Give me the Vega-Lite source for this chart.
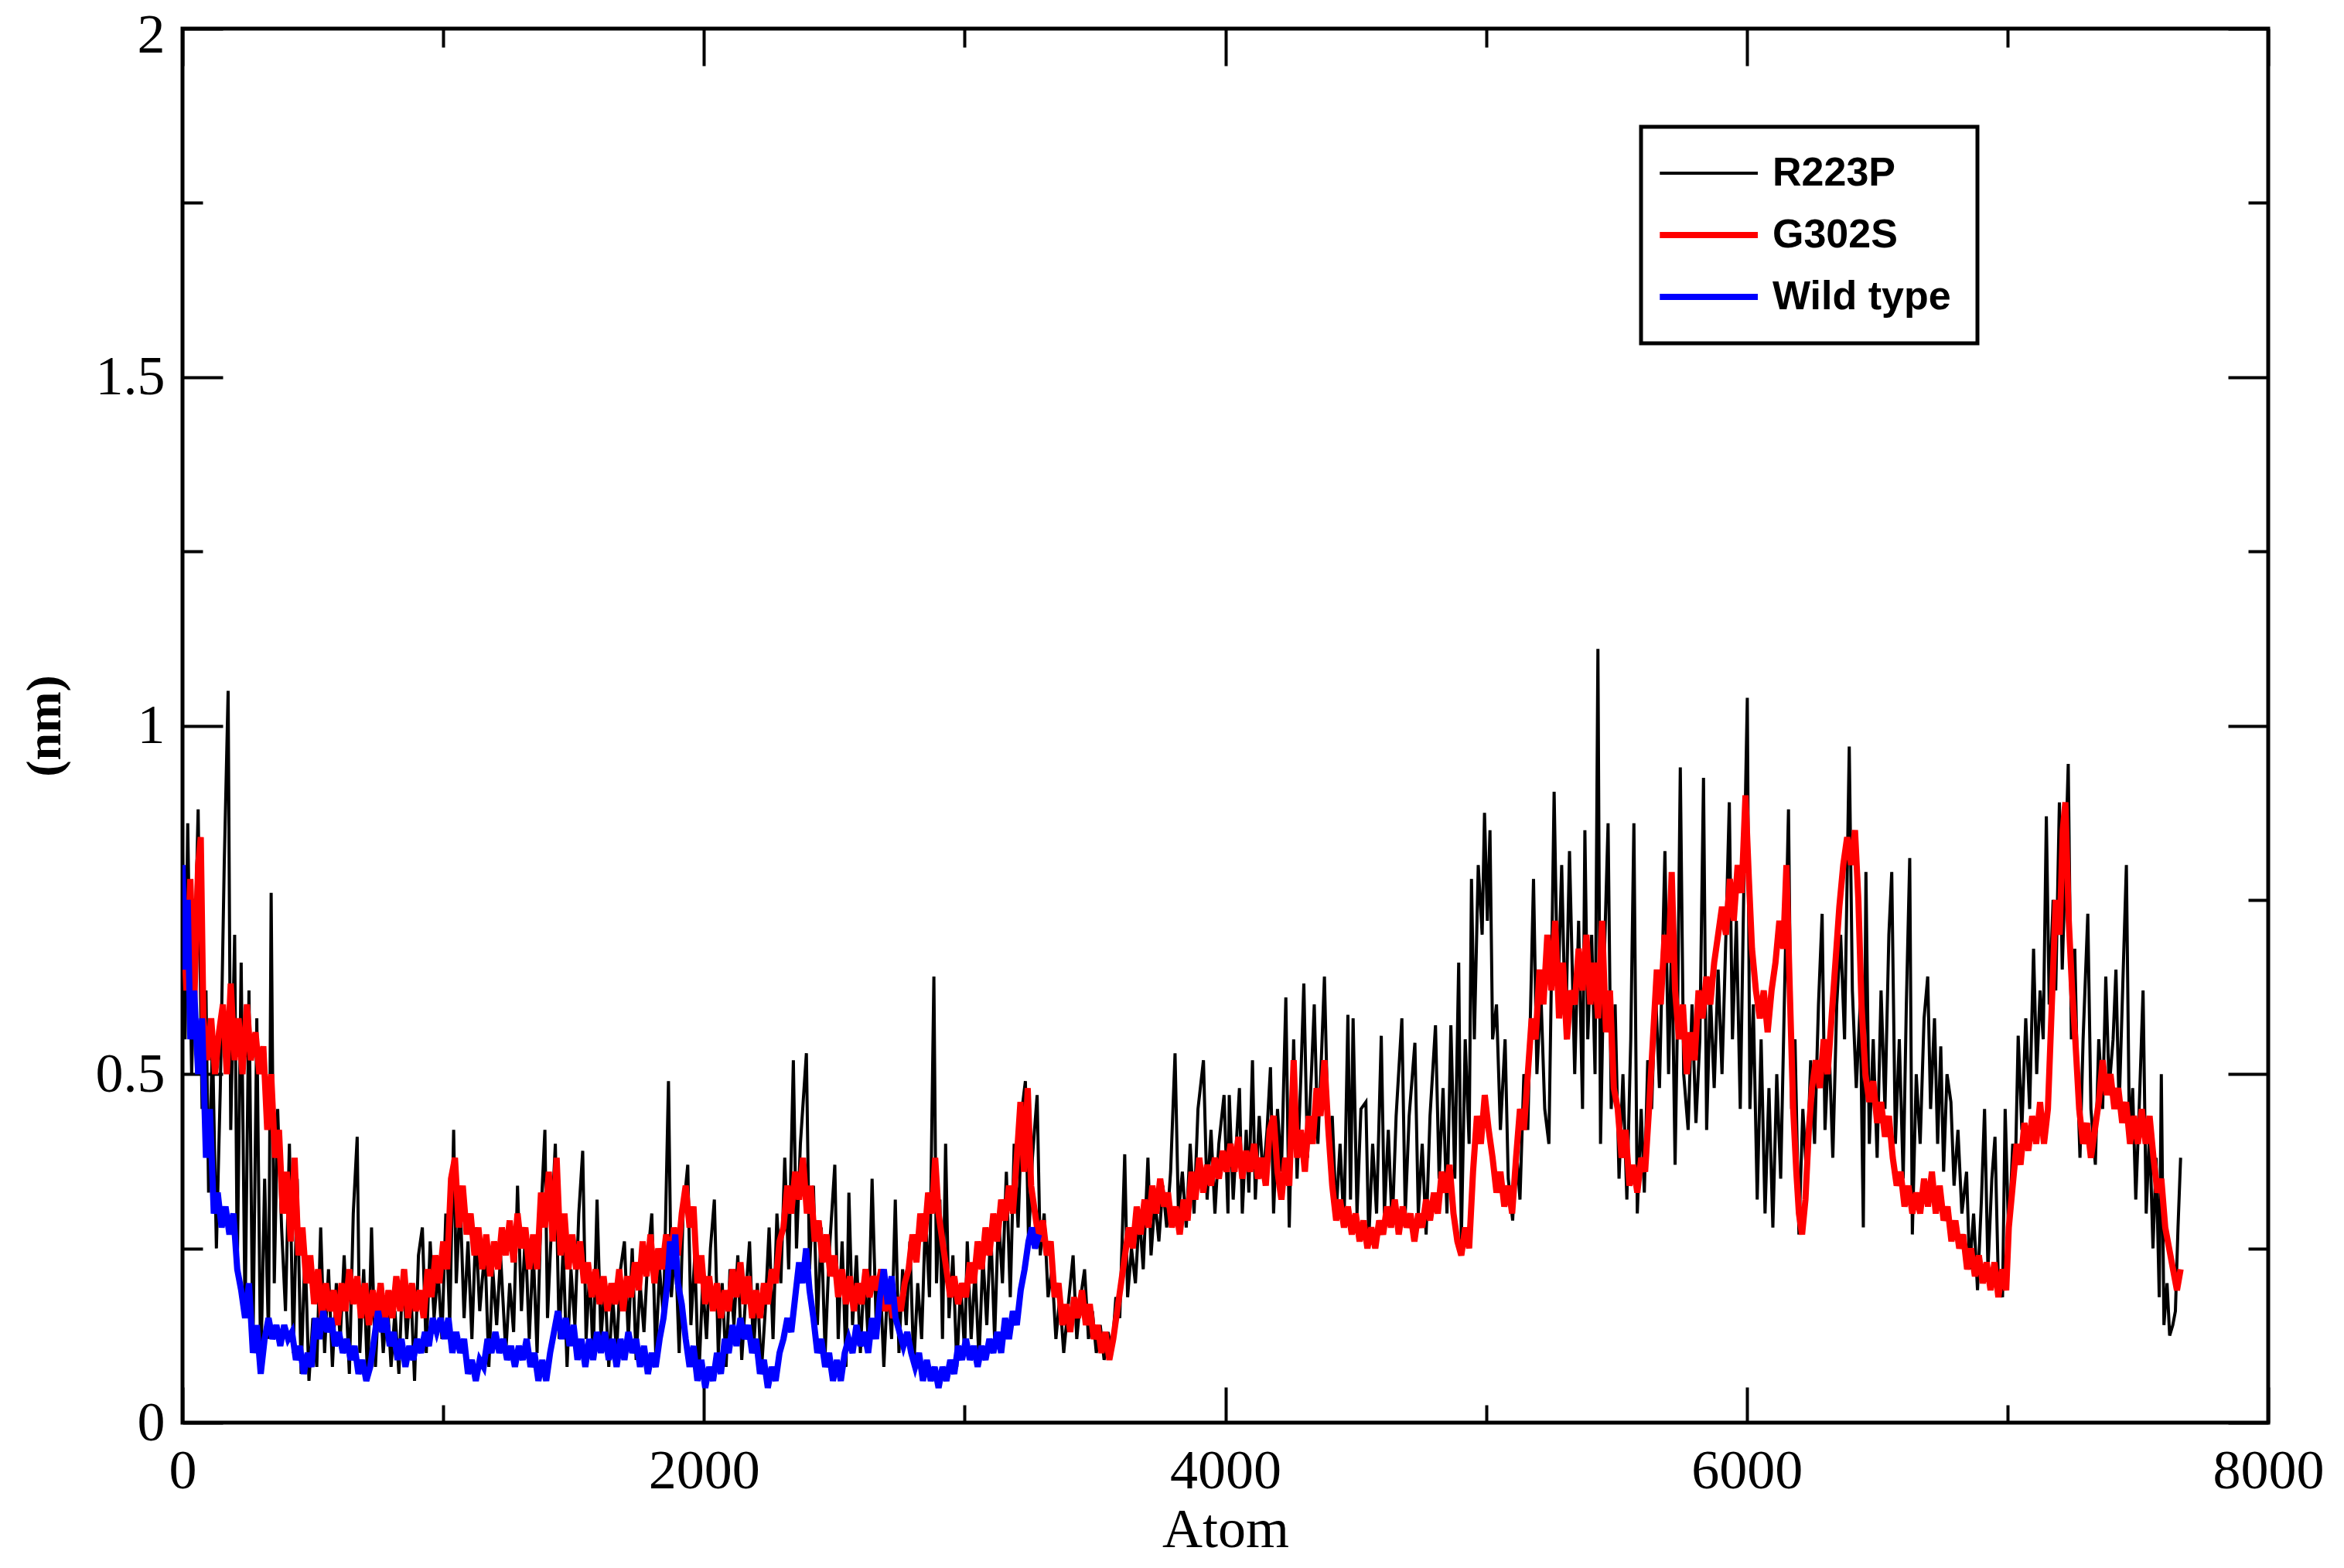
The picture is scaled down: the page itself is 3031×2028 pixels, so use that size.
{
"$schema": "https://vega.github.io/schema/vega-lite/v6.json",
"width": 2697,
"height": 1803,
"autosize": {"type": "none"},
"padding": {"left": 236, "top": 37, "right": 98, "bottom": 188},
"background": "white",
"config": {
  "view": {"stroke": "black", "strokeWidth": 5},
  "axis": {"domain": false, "grid": false, "tickColor": "black", "tickWidth": 4, "labelColor": "black", "titleColor": "black", "labelFont": "Liberation Serif", "titleFont": "Liberation Serif", "labelFontSize": 72}
},
"datasets": {
"r223p": [
{"atom":0,"nm":0.82},{"atom":10,"nm":0.55},{"atom":20,"nm":0.86},{"atom":35,"nm":0.5},{"atom":50,"nm":0.72},{"atom":60,"nm":0.88},{"atom":75,"nm":0.45},{"atom":90,"nm":0.62},{"atom":100,"nm":0.33},{"atom":115,"nm":0.55},{"atom":130,"nm":0.25},{"atom":145,"nm":0.48},{"atom":160,"nm":0.8},{"atom":175,"nm":1.05},{"atom":185,"nm":0.42},{"atom":200,"nm":0.7},{"atom":210,"nm":0.22},{"atom":225,"nm":0.66},{"atom":240,"nm":0.15},{"atom":255,"nm":0.62},{"atom":270,"nm":0.1},{"atom":285,"nm":0.58},{"atom":300,"nm":0.07},{"atom":315,"nm":0.35},{"atom":330,"nm":0.12},{"atom":340,"nm":0.76},{"atom":352,"nm":0.2},{"atom":365,"nm":0.45},{"atom":380,"nm":0.28},{"atom":395,"nm":0.16},
{"atom":410,"nm":0.4},{"atom":425,"nm":0.1},{"atom":440,"nm":0.35},{"atom":455,"nm":0.07},{"atom":470,"nm":0.25},{"atom":485,"nm":0.06},{"atom":500,"nm":0.15},{"atom":515,"nm":0.08},{"atom":530,"nm":0.28},{"atom":545,"nm":0.1},{"atom":560,"nm":0.22},{"atom":575,"nm":0.08},{"atom":590,"nm":0.2},{"atom":605,"nm":0.12},{"atom":620,"nm":0.24},{"atom":640,"nm":0.07},{"atom":655,"nm":0.3},{"atom":670,"nm":0.41},{"atom":680,"nm":0.1},{"atom":695,"nm":0.22},{"atom":710,"nm":0.06},{"atom":725,"nm":0.28},{"atom":740,"nm":0.08},{"atom":755,"nm":0.2},{"atom":770,"nm":0.1},{"atom":785,"nm":0.18},{"atom":800,"nm":0.08},{"atom":815,"nm":0.16},{"atom":830,"nm":0.07},{"atom":845,"nm":0.22},{"atom":860,"nm":0.12},{"atom":875,"nm":0.2},{"atom":890,"nm":0.06},{"atom":905,"nm":0.24},{"atom":920,"nm":0.28},{"atom":935,"nm":0.1},{"atom":950,"nm":0.26},{"atom":965,"nm":0.15},{"atom":980,"nm":0.22},{"atom":995,"nm":0.12},
{"atom":1010,"nm":0.3},{"atom":1025,"nm":0.14},{"atom":1040,"nm":0.42},{"atom":1050,"nm":0.2},{"atom":1065,"nm":0.32},{"atom":1080,"nm":0.15},{"atom":1095,"nm":0.26},{"atom":1110,"nm":0.12},{"atom":1125,"nm":0.28},{"atom":1140,"nm":0.16},{"atom":1160,"nm":0.25},{"atom":1175,"nm":0.08},{"atom":1190,"nm":0.22},{"atom":1205,"nm":0.14},{"atom":1220,"nm":0.24},{"atom":1240,"nm":0.1},{"atom":1255,"nm":0.2},{"atom":1270,"nm":0.13},{"atom":1285,"nm":0.34},{"atom":1300,"nm":0.16},{"atom":1315,"nm":0.27},{"atom":1330,"nm":0.12},
{"atom":1345,"nm":0.25},{"atom":1360,"nm":0.1},{"atom":1375,"nm":0.3},{"atom":1390,"nm":0.42},{"atom":1400,"nm":0.15},{"atom":1415,"nm":0.28},{"atom":1430,"nm":0.4},{"atom":1445,"nm":0.12},{"atom":1460,"nm":0.25},{"atom":1475,"nm":0.08},{"atom":1490,"nm":0.22},{"atom":1505,"nm":0.14},{"atom":1520,"nm":0.3},{"atom":1535,"nm":0.39},{"atom":1548,"nm":0.12},{"atom":1562,"nm":0.22},{"atom":1575,"nm":0.09},{"atom":1590,"nm":0.32},{"atom":1605,"nm":0.12},{"atom":1620,"nm":0.2},{"atom":1635,"nm":0.08},{"atom":1650,"nm":0.18},{"atom":1665,"nm":0.1},{"atom":1680,"nm":0.22},{"atom":1695,"nm":0.26},{"atom":1710,"nm":0.12},{"atom":1725,"nm":0.25},{"atom":1740,"nm":0.09},{"atom":1755,"nm":0.2},{"atom":1770,"nm":0.13},{"atom":1785,"nm":0.24},{"atom":1800,"nm":0.3},{"atom":1815,"nm":0.1},{"atom":1830,"nm":0.22},{"atom":1845,"nm":0.15},{"atom":1864,"nm":0.49},{"atom":1875,"nm":0.18},{"atom":1890,"nm":0.26},{"atom":1905,"nm":0.1},{"atom":1920,"nm":0.3},{"atom":1938,"nm":0.37},{"atom":1950,"nm":0.14},{"atom":1965,"nm":0.24},{"atom":1980,"nm":0.06},{"atom":1995,"nm":0.2},{"atom":2010,"nm":0.12},{"atom":2025,"nm":0.25},{"atom":2040,"nm":0.32},{"atom":2055,"nm":0.1},{"atom":2070,"nm":0.2},{"atom":2085,"nm":0.08},{"atom":2100,"nm":0.22},{"atom":2115,"nm":0.14},{"atom":2130,"nm":0.24},{"atom":2145,"nm":0.09},{"atom":2160,"nm":0.18},{"atom":2175,"nm":0.26},{"atom":2190,"nm":0.1},{"atom":2205,"nm":0.2},{"atom":2220,"nm":0.07},{"atom":2235,"nm":0.16},{"atom":2250,"nm":0.28},{"atom":2265,"nm":0.12},{"atom":2280,"nm":0.3},{"atom":2295,"nm":0.2},{"atom":2310,"nm":0.38},{"atom":2325,"nm":0.22},{"atom":2343,"nm":0.52},{"atom":2355,"nm":0.25},{"atom":2370,"nm":0.4},{"atom":2393,"nm":0.53},{"atom":2405,"nm":0.22},{"atom":2420,"nm":0.34},{"atom":2435,"nm":0.14},{"atom":2450,"nm":0.28},{"atom":2465,"nm":0.1},{"atom":2480,"nm":0.24},{"atom":2502,"nm":0.37},{"atom":2515,"nm":0.12},{"atom":2530,"nm":0.26},{"atom":2545,"nm":0.08},{"atom":2556,"nm":0.33},{"atom":2570,"nm":0.14},{"atom":2585,"nm":0.24},{"atom":2600,"nm":0.1},{"atom":2615,"nm":0.22},{"atom":2630,"nm":0.12},{"atom":2645,"nm":0.35},{"atom":2660,"nm":0.15},
{"atom":2675,"nm":0.22},{"atom":2690,"nm":0.08},{"atom":2705,"nm":0.2},{"atom":2720,"nm":0.12},{"atom":2734,"nm":0.32},{"atom":2748,"nm":0.1},{"atom":2762,"nm":0.22},{"atom":2776,"nm":0.14},{"atom":2790,"nm":0.26},{"atom":2805,"nm":0.08},{"atom":2820,"nm":0.2},{"atom":2835,"nm":0.12},{"atom":2850,"nm":0.3},{"atom":2865,"nm":0.18},{"atom":2882,"nm":0.64},{"atom":2892,"nm":0.2},{"atom":2905,"nm":0.32},{"atom":2915,"nm":0.12},{"atom":2927,"nm":0.4},{"atom":2940,"nm":0.15},{"atom":2955,"nm":0.24},{"atom":2970,"nm":0.08},{"atom":2985,"nm":0.2},{"atom":3000,"nm":0.1},{"atom":3010,"nm":0.26},{"atom":3025,"nm":0.12},{"atom":3040,"nm":0.22},{"atom":3055,"nm":0.09},{"atom":3070,"nm":0.24},{"atom":3085,"nm":0.14},{"atom":3100,"nm":0.28},{"atom":3115,"nm":0.12},{"atom":3130,"nm":0.3},{"atom":3145,"nm":0.2},{"atom":3160,"nm":0.36},{"atom":3175,"nm":0.18},{"atom":3190,"nm":0.4},{"atom":3205,"nm":0.28},{"atom":3220,"nm":0.45},{"atom":3233,"nm":0.49},{"atom":3245,"nm":0.26},{"atom":3260,"nm":0.38},{"atom":3278,"nm":0.47},{"atom":3290,"nm":0.24},{"atom":3305,"nm":0.3},{"atom":3320,"nm":0.18},{"atom":3335,"nm":0.22},{"atom":3350,"nm":0.12},{"atom":3365,"nm":0.18},{"atom":3380,"nm":0.1},{"atom":3395,"nm":0.16},{"atom":3416,"nm":0.24},{"atom":3430,"nm":0.12},{"atom":3445,"nm":0.18},{"atom":3460,"nm":0.22},{"atom":3475,"nm":0.12},{"atom":3490,"nm":0.16},{"atom":3505,"nm":0.1},{"atom":3520,"nm":0.14},{"atom":3535,"nm":0.09},{"atom":3550,"nm":0.13},{"atom":3565,"nm":0.1},{"atom":3580,"nm":0.18},{"atom":3595,"nm":0.15},{"atom":3614,"nm":0.385},{"atom":3625,"nm":0.18},{"atom":3640,"nm":0.25},{"atom":3655,"nm":0.2},{"atom":3670,"nm":0.3},{"atom":3685,"nm":0.22},{"atom":3703,"nm":0.38},{"atom":3715,"nm":0.24},{"atom":3730,"nm":0.32},{"atom":3745,"nm":0.26},{"atom":3760,"nm":0.34},{"atom":3775,"nm":0.28},{"atom":3790,"nm":0.36},{"atom":3807,"nm":0.53},{"atom":3820,"nm":0.3},{"atom":3835,"nm":0.36},{"atom":3850,"nm":0.28},{"atom":3865,"nm":0.4},{"atom":3880,"nm":0.3},{"atom":3895,"nm":0.45},{"atom":3916,"nm":0.52},{"atom":3930,"nm":0.32},{"atom":3945,"nm":0.42},{"atom":3960,"nm":0.3},{"atom":3975,"nm":0.4},{"atom":3995,"nm":0.47},
{"atom":4010,"nm":0.3},{"atom":4015,"nm":0.47},{"atom":4030,"nm":0.32},{"atom":4054,"nm":0.48},{"atom":4065,"nm":0.3},{"atom":4080,"nm":0.42},{"atom":4090,"nm":0.33},{"atom":4104,"nm":0.52},{"atom":4115,"nm":0.32},{"atom":4130,"nm":0.44},{"atom":4145,"nm":0.35},{"atom":4160,"nm":0.42},{"atom":4173,"nm":0.51},{"atom":4185,"nm":0.3},{"atom":4200,"nm":0.45},{"atom":4215,"nm":0.36},{"atom":4232,"nm":0.61},{"atom":4245,"nm":0.28},{"atom":4262,"nm":0.55},{"atom":4275,"nm":0.35},{"atom":4290,"nm":0.5},{"atom":4301,"nm":0.63},{"atom":4315,"nm":0.38},{"atom":4330,"nm":0.5},{"atom":4341,"nm":0.6},{"atom":4355,"nm":0.4},{"atom":4368,"nm":0.52},{"atom":4380,"nm":0.64},{"atom":4395,"nm":0.4},{"atom":4410,"nm":0.44},{"atom":4425,"nm":0.3},{"atom":4440,"nm":0.4},{"atom":4455,"nm":0.28},{"atom":4470,"nm":0.585},{"atom":4480,"nm":0.32},{"atom":4490,"nm":0.58},{"atom":4505,"nm":0.3},{"atom":4520,"nm":0.45},{"atom":4539,"nm":0.46},{"atom":4550,"nm":0.26},{"atom":4565,"nm":0.4},{"atom":4580,"nm":0.3},{"atom":4598,"nm":0.555},{"atom":4610,"nm":0.3},{"atom":4625,"nm":0.42},{"atom":4640,"nm":0.28},{"atom":4655,"nm":0.44},{"atom":4677,"nm":0.58},{"atom":4690,"nm":0.3},{"atom":4705,"nm":0.44},{"atom":4727,"nm":0.545},{"atom":4740,"nm":0.3},{"atom":4755,"nm":0.4},{"atom":4770,"nm":0.27},{"atom":4785,"nm":0.44},{"atom":4806,"nm":0.57},{"atom":4820,"nm":0.35},{"atom":4835,"nm":0.48},{"atom":4850,"nm":0.3},{"atom":4865,"nm":0.57},{"atom":4880,"nm":0.35},{"atom":4895,"nm":0.66},{"atom":4905,"nm":0.26},{"atom":4920,"nm":0.55},{"atom":4935,"nm":0.4},{"atom":4944,"nm":0.78},{"atom":4955,"nm":0.55},{"atom":4970,"nm":0.8},{"atom":4985,"nm":0.7},{"atom":4994,"nm":0.875},{"atom":5005,"nm":0.72},{"atom":5015,"nm":0.85},{"atom":5025,"nm":0.55},{"atom":5040,"nm":0.6},{"atom":5055,"nm":0.42},{"atom":5073,"nm":0.55},{"atom":5085,"nm":0.35},{"atom":5102,"nm":0.29},{"atom":5115,"nm":0.4},{"atom":5130,"nm":0.32},{"atom":5145,"nm":0.5},{"atom":5160,"nm":0.42},{"atom":5182,"nm":0.78},{"atom":5195,"nm":0.5},{"atom":5210,"nm":0.62},{"atom":5225,"nm":0.45},{"atom":5241,"nm":0.4},{"atom":5255,"nm":0.75},{"atom":5261,"nm":0.905},{"atom":5275,"nm":0.6},{"atom":5290,"nm":0.8},{"atom":5305,"nm":0.55},{"atom":5320,"nm":0.82},
{"atom":5340,"nm":0.5},{"atom":5355,"nm":0.72},{"atom":5370,"nm":0.45},{"atom":5379,"nm":0.85},{"atom":5390,"nm":0.55},{"atom":5405,"nm":0.7},{"atom":5418,"nm":0.5},{"atom":5429,"nm":1.11},{"atom":5439,"nm":0.4},{"atom":5450,"nm":0.62},{"atom":5468,"nm":0.86},{"atom":5480,"nm":0.45},{"atom":5495,"nm":0.6},{"atom":5510,"nm":0.35},{"atom":5525,"nm":0.5},{"atom":5540,"nm":0.32},{"atom":5555,"nm":0.55},{"atom":5567,"nm":0.86},{"atom":5580,"nm":0.3},{"atom":5595,"nm":0.45},{"atom":5607,"nm":0.33},{"atom":5620,"nm":0.52},{"atom":5635,"nm":0.45},{"atom":5650,"nm":0.62},{"atom":5665,"nm":0.48},{"atom":5686,"nm":0.82},{"atom":5700,"nm":0.5},{"atom":5712,"nm":0.7},{"atom":5725,"nm":0.37},{"atom":5735,"nm":0.6},{"atom":5745,"nm":0.94},{"atom":5758,"nm":0.5},{"atom":5775,"nm":0.42},{"atom":5790,"nm":0.6},{"atom":5805,"nm":0.43},{"atom":5820,"nm":0.55},{"atom":5834,"nm":0.925},{"atom":5846,"nm":0.42},{"atom":5860,"nm":0.62},{"atom":5875,"nm":0.48},{"atom":5890,"nm":0.65},{"atom":5905,"nm":0.5},{"atom":5920,"nm":0.7},{"atom":5933,"nm":0.89},{"atom":5945,"nm":0.55},{"atom":5960,"nm":0.72},{"atom":5975,"nm":0.45},{"atom":5990,"nm":0.8},{"atom":6002,"nm":1.04},{"atom":6012,"nm":0.45},{"atom":6025,"nm":0.6},{"atom":6040,"nm":0.32},{"atom":6055,"nm":0.55},{"atom":6070,"nm":0.3},{"atom":6085,"nm":0.48},{"atom":6100,"nm":0.28},{"atom":6115,"nm":0.5},{"atom":6130,"nm":0.35},{"atom":6145,"nm":0.62},{"atom":6160,"nm":0.88},{"atom":6172,"nm":0.45},{"atom":6185,"nm":0.55},{"atom":6200,"nm":0.27},{"atom":6215,"nm":0.45},{"atom":6230,"nm":0.35},{"atom":6245,"nm":0.52},{"atom":6260,"nm":0.4},{"atom":6275,"nm":0.6},{"atom":6289,"nm":0.73},{"atom":6300,"nm":0.42},{"atom":6315,"nm":0.55},{"atom":6330,"nm":0.38},{"atom":6345,"nm":0.6},{"atom":6360,"nm":0.7},{"atom":6375,"nm":0.55},{"atom":6393,"nm":0.97},{"atom":6405,"nm":0.62},{"atom":6420,"nm":0.48},{"atom":6435,"nm":0.6},{"atom":6447,"nm":0.28},{"atom":6457,"nm":0.79},{"atom":6470,"nm":0.4},{"atom":6485,"nm":0.55},{"atom":6500,"nm":0.38},{"atom":6515,"nm":0.62},{"atom":6530,"nm":0.45},{"atom":6545,"nm":0.7},{"atom":6556,"nm":0.79},{"atom":6570,"nm":0.4},{"atom":6585,"nm":0.55},{"atom":6600,"nm":0.35},{"atom":6612,"nm":0.6},{"atom":6625,"nm":0.81},{"atom":6635,"nm":0.27},{"atom":6650,"nm":0.5},
{"atom":6665,"nm":0.4},{"atom":6680,"nm":0.58},{"atom":6694,"nm":0.64},{"atom":6705,"nm":0.45},{"atom":6720,"nm":0.58},{"atom":6732,"nm":0.4},{"atom":6744,"nm":0.54},{"atom":6755,"nm":0.36},{"atom":6768,"nm":0.5},{"atom":6783,"nm":0.46},{"atom":6795,"nm":0.34},{"atom":6810,"nm":0.42},{"atom":6825,"nm":0.3},{"atom":6843,"nm":0.36},{"atom":6855,"nm":0.22},{"atom":6870,"nm":0.3},{"atom":6885,"nm":0.19},{"atom":6900,"nm":0.32},{"atom":6912,"nm":0.45},{"atom":6925,"nm":0.22},{"atom":6940,"nm":0.35},{"atom":6952,"nm":0.41},{"atom":6965,"nm":0.2},{"atom":6981,"nm":0.18},{"atom":6991,"nm":0.45},{"atom":7005,"nm":0.26},{"atom":7020,"nm":0.4},{"atom":7030,"nm":0.36},{"atom":7041,"nm":0.555},{"atom":7055,"nm":0.42},{"atom":7070,"nm":0.58},{"atom":7085,"nm":0.45},{"atom":7100,"nm":0.68},{"atom":7112,"nm":0.5},{"atom":7125,"nm":0.62},{"atom":7137,"nm":0.55},{"atom":7149,"nm":0.87},{"atom":7160,"nm":0.6},{"atom":7175,"nm":0.75},{"atom":7185,"nm":0.62},{"atom":7199,"nm":0.89},{"atom":7210,"nm":0.65},{"atom":7222,"nm":0.8},{"atom":7233,"nm":0.945},{"atom":7245,"nm":0.55},{"atom":7258,"nm":0.68},{"atom":7268,"nm":0.5},{"atom":7278,"nm":0.38},{"atom":7290,"nm":0.55},{"atom":7308,"nm":0.73},{"atom":7320,"nm":0.45},{"atom":7337,"nm":0.37},{"atom":7350,"nm":0.55},{"atom":7365,"nm":0.45},{"atom":7377,"nm":0.64},{"atom":7390,"nm":0.48},{"atom":7405,"nm":0.55},{"atom":7416,"nm":0.65},{"atom":7428,"nm":0.45},{"atom":7440,"nm":0.6},{"atom":7456,"nm":0.8},{"atom":7468,"nm":0.4},{"atom":7480,"nm":0.48},{"atom":7492,"nm":0.32},{"atom":7505,"nm":0.45},{"atom":7520,"nm":0.62},{"atom":7532,"nm":0.3},{"atom":7545,"nm":0.42},{"atom":7558,"nm":0.25},{"atom":7570,"nm":0.38},{"atom":7582,"nm":0.18},{"atom":7590,"nm":0.5},{"atom":7600,"nm":0.14},{"atom":7612,"nm":0.2},{"atom":7622,"nm":0.125},{"atom":7634,"nm":0.14},{"atom":7644,"nm":0.16},{"atom":7654,"nm":0.28},{"atom":7664,"nm":0.38}
],
"g302s": [
{"atom":0,"nm":0.75},{"atom":15,"nm":0.62},{"atom":30,"nm":0.78},{"atom":45,"nm":0.6},{"atom":60,"nm":0.8},{"atom":70,"nm":0.84},{"atom":80,"nm":0.58},{"atom":95,"nm":0.52},{"atom":110,"nm":0.58},{"atom":125,"nm":0.5},{"atom":140,"nm":0.56},{"atom":155,"nm":0.6},{"atom":170,"nm":0.5},{"atom":185,"nm":0.63},{"atom":200,"nm":0.52},{"atom":215,"nm":0.58},{"atom":230,"nm":0.5},{"atom":247,"nm":0.6},{"atom":262,"nm":0.52},{"atom":280,"nm":0.56},{"atom":295,"nm":0.5},{"atom":310,"nm":0.54},{"atom":325,"nm":0.42},{"atom":340,"nm":0.5},{"atom":355,"nm":0.38},{"atom":370,"nm":0.42},{"atom":385,"nm":0.3},{"atom":400,"nm":0.36},{"atom":415,"nm":0.26},{"atom":430,"nm":0.38},{"atom":445,"nm":0.24},{"atom":460,"nm":0.28},{"atom":475,"nm":0.2},{"atom":490,"nm":0.24},
{"atom":505,"nm":0.17},{"atom":520,"nm":0.22},{"atom":535,"nm":0.15},{"atom":550,"nm":0.2},{"atom":565,"nm":0.16},{"atom":580,"nm":0.19},{"atom":595,"nm":0.14},{"atom":610,"nm":0.2},{"atom":625,"nm":0.16},{"atom":640,"nm":0.22},{"atom":655,"nm":0.17},{"atom":670,"nm":0.21},{"atom":685,"nm":0.15},{"atom":700,"nm":0.2},{"atom":715,"nm":0.14},{"atom":730,"nm":0.19},{"atom":745,"nm":0.15},{"atom":760,"nm":0.2},{"atom":775,"nm":0.14},{"atom":790,"nm":0.19},{"atom":805,"nm":0.15},{"atom":820,"nm":0.21},{"atom":835,"nm":0.16},{"atom":850,"nm":0.22},{"atom":865,"nm":0.15},{"atom":880,"nm":0.2},{"atom":895,"nm":0.16},{"atom":910,"nm":0.19},{"atom":925,"nm":0.15},{"atom":940,"nm":0.22},{"atom":955,"nm":0.18},{"atom":970,"nm":0.24},{"atom":985,"nm":0.2},{"atom":1000,"nm":0.26},{"atom":1015,"nm":0.22},{"atom":1030,"nm":0.35},{"atom":1045,"nm":0.38},{"atom":1060,"nm":0.28},{"atom":1075,"nm":0.34},{"atom":1090,"nm":0.27},{"atom":1105,"nm":0.3},{"atom":1120,"nm":0.24},{"atom":1135,"nm":0.28},{"atom":1150,"nm":0.22},{"atom":1165,"nm":0.27},{"atom":1180,"nm":0.21},{"atom":1195,"nm":0.26},{"atom":1210,"nm":0.22},{"atom":1225,"nm":0.28},{"atom":1240,"nm":0.24},{"atom":1255,"nm":0.29},{"atom":1270,"nm":0.23},{"atom":1285,"nm":0.3},{"atom":1300,"nm":0.25},{"atom":1315,"nm":0.28},{"atom":1330,"nm":0.22},
{"atom":1345,"nm":0.27},{"atom":1360,"nm":0.22},{"atom":1375,"nm":0.33},{"atom":1390,"nm":0.28},{"atom":1405,"nm":0.36},{"atom":1420,"nm":0.26},{"atom":1435,"nm":0.38},{"atom":1450,"nm":0.24},{"atom":1465,"nm":0.3},{"atom":1480,"nm":0.22},{"atom":1495,"nm":0.27},{"atom":1510,"nm":0.22},{"atom":1525,"nm":0.26},{"atom":1540,"nm":0.2},{"atom":1555,"nm":0.23},{"atom":1570,"nm":0.18},{"atom":1585,"nm":0.22},{"atom":1600,"nm":0.17},{"atom":1615,"nm":0.21},{"atom":1630,"nm":0.16},{"atom":1645,"nm":0.2},{"atom":1660,"nm":0.17},{"atom":1675,"nm":0.22},{"atom":1690,"nm":0.16},{"atom":1705,"nm":0.21},{"atom":1720,"nm":0.18},{"atom":1735,"nm":0.23},{"atom":1750,"nm":0.19},{"atom":1765,"nm":0.26},{"atom":1780,"nm":0.21},{"atom":1795,"nm":0.27},{"atom":1810,"nm":0.2},{"atom":1825,"nm":0.25},{"atom":1840,"nm":0.22},{"atom":1855,"nm":0.27},{"atom":1870,"nm":0.23},{"atom":1885,"nm":0.28},{"atom":1900,"nm":0.24},{"atom":1915,"nm":0.3},{"atom":1930,"nm":0.34},{"atom":1945,"nm":0.28},{"atom":1960,"nm":0.31},{"atom":1975,"nm":0.2},{"atom":1990,"nm":0.24},{"atom":2005,"nm":0.17},{"atom":2020,"nm":0.21},{"atom":2035,"nm":0.16},{"atom":2050,"nm":0.2},{"atom":2065,"nm":0.15},{"atom":2080,"nm":0.19},{"atom":2095,"nm":0.16},{"atom":2110,"nm":0.22},{"atom":2125,"nm":0.18},{"atom":2140,"nm":0.23},{"atom":2155,"nm":0.17},{"atom":2170,"nm":0.21},{"atom":2185,"nm":0.15},{"atom":2200,"nm":0.19},{"atom":2215,"nm":0.15},{"atom":2230,"nm":0.2},{"atom":2245,"nm":0.17},{"atom":2260,"nm":0.22},{"atom":2275,"nm":0.2},{"atom":2290,"nm":0.26},{"atom":2305,"nm":0.28},{"atom":2320,"nm":0.34},{"atom":2335,"nm":0.3},{"atom":2350,"nm":0.36},{"atom":2365,"nm":0.32},{"atom":2380,"nm":0.38},{"atom":2395,"nm":0.3},{"atom":2410,"nm":0.34},{"atom":2425,"nm":0.26},{"atom":2440,"nm":0.29},{"atom":2455,"nm":0.23},{"atom":2470,"nm":0.27},{"atom":2485,"nm":0.21},{"atom":2500,"nm":0.24},{"atom":2515,"nm":0.18},{"atom":2530,"nm":0.22},{"atom":2545,"nm":0.17},{"atom":2560,"nm":0.21},{"atom":2575,"nm":0.16},{"atom":2590,"nm":0.2},{"atom":2605,"nm":0.17},{"atom":2620,"nm":0.22},{"atom":2635,"nm":0.18},{"atom":2650,"nm":0.21},
{"atom":2665,"nm":0.19},{"atom":2680,"nm":0.22},{"atom":2695,"nm":0.16},{"atom":2710,"nm":0.19},{"atom":2725,"nm":0.15},{"atom":2740,"nm":0.18},{"atom":2755,"nm":0.16},{"atom":2770,"nm":0.2},{"atom":2785,"nm":0.22},{"atom":2800,"nm":0.27},{"atom":2815,"nm":0.23},{"atom":2830,"nm":0.3},{"atom":2845,"nm":0.26},{"atom":2860,"nm":0.33},{"atom":2875,"nm":0.3},{"atom":2887,"nm":0.38},{"atom":2900,"nm":0.3},{"atom":2915,"nm":0.26},{"atom":2930,"nm":0.22},{"atom":2945,"nm":0.18},{"atom":2960,"nm":0.21},{"atom":2975,"nm":0.17},{"atom":2990,"nm":0.2},{"atom":3005,"nm":0.18},{"atom":3020,"nm":0.23},{"atom":3035,"nm":0.2},{"atom":3050,"nm":0.26},{"atom":3065,"nm":0.22},{"atom":3080,"nm":0.28},{"atom":3095,"nm":0.24},{"atom":3110,"nm":0.3},{"atom":3125,"nm":0.26},{"atom":3140,"nm":0.32},{"atom":3155,"nm":0.29},{"atom":3170,"nm":0.34},{"atom":3185,"nm":0.3},{"atom":3200,"nm":0.38},{"atom":3214,"nm":0.46},{"atom":3228,"nm":0.36},{"atom":3242,"nm":0.48},{"atom":3255,"nm":0.34},{"atom":3270,"nm":0.3},{"atom":3285,"nm":0.26},{"atom":3300,"nm":0.29},{"atom":3315,"nm":0.24},{"atom":3330,"nm":0.26},{"atom":3345,"nm":0.18},{"atom":3360,"nm":0.2},{"atom":3375,"nm":0.14},{"atom":3390,"nm":0.17},{"atom":3405,"nm":0.13},{"atom":3420,"nm":0.18},{"atom":3435,"nm":0.15},{"atom":3450,"nm":0.19},{"atom":3465,"nm":0.14},{"atom":3480,"nm":0.17},{"atom":3495,"nm":0.12},{"atom":3510,"nm":0.14},{"atom":3525,"nm":0.1},{"atom":3540,"nm":0.13},{"atom":3555,"nm":0.09},{"atom":3570,"nm":0.12},{"atom":3585,"nm":0.16},{"atom":3600,"nm":0.2},{"atom":3615,"nm":0.24},{"atom":3630,"nm":0.28},{"atom":3645,"nm":0.25},{"atom":3660,"nm":0.31},{"atom":3675,"nm":0.27},{"atom":3690,"nm":0.32},{"atom":3705,"nm":0.28},{"atom":3720,"nm":0.34},{"atom":3735,"nm":0.3},{"atom":3750,"nm":0.35},{"atom":3765,"nm":0.31},{"atom":3780,"nm":0.33},{"atom":3795,"nm":0.28},{"atom":3810,"nm":0.31},{"atom":3825,"nm":0.27},{"atom":3840,"nm":0.32},{"atom":3855,"nm":0.29},{"atom":3870,"nm":0.36},{"atom":3885,"nm":0.32},{"atom":3900,"nm":0.38},{"atom":3915,"nm":0.33},{"atom":3930,"nm":0.37},{"atom":3945,"nm":0.34},{"atom":3960,"nm":0.38},{"atom":3975,"nm":0.35},{"atom":3990,"nm":0.39},
{"atom":4005,"nm":0.36},{"atom":4020,"nm":0.4},{"atom":4035,"nm":0.36},{"atom":4050,"nm":0.41},{"atom":4065,"nm":0.35},{"atom":4080,"nm":0.39},{"atom":4095,"nm":0.36},{"atom":4110,"nm":0.4},{"atom":4125,"nm":0.35},{"atom":4140,"nm":0.38},{"atom":4155,"nm":0.34},{"atom":4170,"nm":0.42},{"atom":4185,"nm":0.44},{"atom":4200,"nm":0.36},{"atom":4215,"nm":0.32},{"atom":4230,"nm":0.38},{"atom":4245,"nm":0.34},{"atom":4262,"nm":0.52},{"atom":4275,"nm":0.38},{"atom":4290,"nm":0.42},{"atom":4305,"nm":0.36},{"atom":4320,"nm":0.44},{"atom":4335,"nm":0.4},{"atom":4350,"nm":0.48},{"atom":4365,"nm":0.44},{"atom":4380,"nm":0.52},{"atom":4395,"nm":0.42},{"atom":4410,"nm":0.34},{"atom":4425,"nm":0.29},{"atom":4440,"nm":0.32},{"atom":4455,"nm":0.28},{"atom":4470,"nm":0.31},{"atom":4485,"nm":0.27},{"atom":4500,"nm":0.3},{"atom":4515,"nm":0.26},{"atom":4530,"nm":0.29},{"atom":4545,"nm":0.25},{"atom":4560,"nm":0.28},{"atom":4575,"nm":0.25},{"atom":4590,"nm":0.29},{"atom":4605,"nm":0.27},{"atom":4620,"nm":0.31},{"atom":4635,"nm":0.28},{"atom":4650,"nm":0.32},{"atom":4665,"nm":0.27},{"atom":4680,"nm":0.31},{"atom":4695,"nm":0.28},{"atom":4710,"nm":0.3},{"atom":4725,"nm":0.26},{"atom":4740,"nm":0.3},{"atom":4755,"nm":0.28},{"atom":4770,"nm":0.32},{"atom":4785,"nm":0.29},{"atom":4800,"nm":0.33},{"atom":4815,"nm":0.3},{"atom":4830,"nm":0.36},{"atom":4845,"nm":0.33},{"atom":4860,"nm":0.37},{"atom":4875,"nm":0.3},{"atom":4890,"nm":0.26},{"atom":4905,"nm":0.24},{"atom":4920,"nm":0.28},{"atom":4935,"nm":0.25},{"atom":4950,"nm":0.36},{"atom":4965,"nm":0.44},{"atom":4980,"nm":0.4},{"atom":4995,"nm":0.47},{"atom":5010,"nm":0.42},{"atom":5025,"nm":0.38},{"atom":5040,"nm":0.33},{"atom":5055,"nm":0.36},{"atom":5070,"nm":0.31},{"atom":5085,"nm":0.34},{"atom":5100,"nm":0.3},{"atom":5115,"nm":0.38},{"atom":5130,"nm":0.45},{"atom":5145,"nm":0.42},{"atom":5160,"nm":0.5},{"atom":5175,"nm":0.58},{"atom":5190,"nm":0.55},{"atom":5205,"nm":0.65},{"atom":5220,"nm":0.6},{"atom":5235,"nm":0.7},{"atom":5250,"nm":0.62},{"atom":5265,"nm":0.72},{"atom":5280,"nm":0.58},{"atom":5295,"nm":0.66},{"atom":5310,"nm":0.55},{"atom":5325,"nm":0.62},
{"atom":5340,"nm":0.6},{"atom":5355,"nm":0.68},{"atom":5370,"nm":0.62},{"atom":5385,"nm":0.7},{"atom":5400,"nm":0.6},{"atom":5415,"nm":0.66},{"atom":5430,"nm":0.58},{"atom":5445,"nm":0.72},{"atom":5460,"nm":0.56},{"atom":5475,"nm":0.62},{"atom":5490,"nm":0.48},{"atom":5505,"nm":0.45},{"atom":5520,"nm":0.38},{"atom":5535,"nm":0.42},{"atom":5550,"nm":0.34},{"atom":5565,"nm":0.37},{"atom":5580,"nm":0.33},{"atom":5595,"nm":0.38},{"atom":5610,"nm":0.36},{"atom":5625,"nm":0.45},{"atom":5640,"nm":0.55},{"atom":5655,"nm":0.65},{"atom":5670,"nm":0.6},{"atom":5685,"nm":0.7},{"atom":5700,"nm":0.66},{"atom":5712,"nm":0.79},{"atom":5725,"nm":0.62},{"atom":5740,"nm":0.55},{"atom":5755,"nm":0.6},{"atom":5770,"nm":0.5},{"atom":5785,"nm":0.56},{"atom":5800,"nm":0.52},{"atom":5815,"nm":0.62},{"atom":5830,"nm":0.58},{"atom":5845,"nm":0.64},{"atom":5860,"nm":0.6},{"atom":5875,"nm":0.66},{"atom":5890,"nm":0.7},{"atom":5905,"nm":0.74},{"atom":5920,"nm":0.7},{"atom":5935,"nm":0.78},{"atom":5950,"nm":0.72},{"atom":5965,"nm":0.8},{"atom":5980,"nm":0.76},{"atom":5995,"nm":0.9},{"atom":6008,"nm":0.78},{"atom":6020,"nm":0.68},{"atom":6035,"nm":0.62},{"atom":6050,"nm":0.58},{"atom":6065,"nm":0.62},{"atom":6080,"nm":0.56},{"atom":6095,"nm":0.62},{"atom":6110,"nm":0.66},{"atom":6125,"nm":0.72},{"atom":6140,"nm":0.68},{"atom":6152,"nm":0.8},{"atom":6165,"nm":0.62},{"atom":6178,"nm":0.45},{"atom":6190,"nm":0.36},{"atom":6200,"nm":0.3},{"atom":6212,"nm":0.27},{"atom":6225,"nm":0.32},{"atom":6238,"nm":0.42},{"atom":6250,"nm":0.48},{"atom":6265,"nm":0.52},{"atom":6280,"nm":0.48},{"atom":6295,"nm":0.55},{"atom":6310,"nm":0.5},{"atom":6325,"nm":0.58},{"atom":6340,"nm":0.66},{"atom":6355,"nm":0.74},{"atom":6370,"nm":0.8},{"atom":6385,"nm":0.84},{"atom":6400,"nm":0.8},{"atom":6415,"nm":0.85},{"atom":6428,"nm":0.75},{"atom":6440,"nm":0.6},{"atom":6455,"nm":0.5},{"atom":6470,"nm":0.46},{"atom":6485,"nm":0.49},{"atom":6500,"nm":0.43},{"atom":6515,"nm":0.46},{"atom":6530,"nm":0.41},{"atom":6545,"nm":0.44},{"atom":6560,"nm":0.38},{"atom":6575,"nm":0.34},{"atom":6590,"nm":0.36},{"atom":6605,"nm":0.31},{"atom":6620,"nm":0.34},{"atom":6635,"nm":0.3},{"atom":6650,"nm":0.33},
{"atom":6665,"nm":0.3},{"atom":6680,"nm":0.35},{"atom":6695,"nm":0.31},{"atom":6710,"nm":0.36},{"atom":6725,"nm":0.3},{"atom":6740,"nm":0.34},{"atom":6755,"nm":0.29},{"atom":6770,"nm":0.31},{"atom":6785,"nm":0.26},{"atom":6800,"nm":0.29},{"atom":6815,"nm":0.25},{"atom":6830,"nm":0.27},{"atom":6845,"nm":0.22},{"atom":6860,"nm":0.25},{"atom":6875,"nm":0.21},{"atom":6890,"nm":0.24},{"atom":6905,"nm":0.2},{"atom":6920,"nm":0.23},{"atom":6935,"nm":0.19},{"atom":6950,"nm":0.23},{"atom":6965,"nm":0.18},{"atom":6980,"nm":0.22},{"atom":6995,"nm":0.19},{"atom":7005,"nm":0.28},{"atom":7020,"nm":0.34},{"atom":7035,"nm":0.4},{"atom":7050,"nm":0.37},{"atom":7065,"nm":0.43},{"atom":7080,"nm":0.39},{"atom":7095,"nm":0.44},{"atom":7110,"nm":0.4},{"atom":7125,"nm":0.46},{"atom":7140,"nm":0.4},{"atom":7155,"nm":0.45},{"atom":7170,"nm":0.6},{"atom":7185,"nm":0.75},{"atom":7200,"nm":0.7},{"atom":7212,"nm":0.85},{"atom":7222,"nm":0.89},{"atom":7235,"nm":0.72},{"atom":7248,"nm":0.62},{"atom":7260,"nm":0.55},{"atom":7275,"nm":0.45},{"atom":7290,"nm":0.4},{"atom":7305,"nm":0.43},{"atom":7320,"nm":0.38},{"atom":7335,"nm":0.42},{"atom":7350,"nm":0.46},{"atom":7365,"nm":0.52},{"atom":7380,"nm":0.47},{"atom":7395,"nm":0.5},{"atom":7410,"nm":0.45},{"atom":7425,"nm":0.48},{"atom":7440,"nm":0.43},{"atom":7455,"nm":0.46},{"atom":7470,"nm":0.4},{"atom":7485,"nm":0.44},{"atom":7500,"nm":0.4},{"atom":7515,"nm":0.45},{"atom":7530,"nm":0.4},{"atom":7545,"nm":0.44},{"atom":7560,"nm":0.38},{"atom":7575,"nm":0.33},{"atom":7590,"nm":0.35},{"atom":7605,"nm":0.28},{"atom":7620,"nm":0.25},{"atom":7635,"nm":0.22},{"atom":7650,"nm":0.19},{"atom":7664,"nm":0.22}
],
"wt": [
{"atom":0,"nm":0.8},{"atom":10,"nm":0.65},{"atom":20,"nm":0.75},{"atom":30,"nm":0.55},{"atom":45,"nm":0.62},{"atom":60,"nm":0.5},{"atom":75,"nm":0.58},{"atom":90,"nm":0.38},{"atom":105,"nm":0.45},{"atom":120,"nm":0.3},{"atom":135,"nm":0.33},{"atom":150,"nm":0.28},{"atom":165,"nm":0.31},{"atom":180,"nm":0.27},{"atom":195,"nm":0.3},{"atom":210,"nm":0.22},{"atom":225,"nm":0.19},{"atom":240,"nm":0.15},{"atom":255,"nm":0.2},{"atom":270,"nm":0.1},{"atom":285,"nm":0.14},{"atom":300,"nm":0.07},{"atom":315,"nm":0.12},{"atom":330,"nm":0.15},{"atom":345,"nm":0.12},{"atom":360,"nm":0.14},{"atom":375,"nm":0.11},{"atom":390,"nm":0.14},{"atom":405,"nm":0.12},{"atom":420,"nm":0.13},{"atom":435,"nm":0.09},{"atom":450,"nm":0.11},{"atom":465,"nm":0.07},{"atom":480,"nm":0.1},{"atom":495,"nm":0.08},{"atom":510,"nm":0.15},{"atom":525,"nm":0.12},{"atom":540,"nm":0.16},{"atom":555,"nm":0.13},{"atom":570,"nm":0.15},{"atom":585,"nm":0.11},{"atom":600,"nm":0.13},{"atom":615,"nm":0.1},{"atom":630,"nm":0.12},{"atom":645,"nm":0.09},{"atom":660,"nm":0.11},{"atom":675,"nm":0.07},{"atom":690,"nm":0.09},{"atom":705,"nm":0.06},{"atom":720,"nm":0.08},{"atom":735,"nm":0.12},{"atom":750,"nm":0.16},{"atom":765,"nm":0.13},{"atom":780,"nm":0.15},{"atom":795,"nm":0.11},{"atom":810,"nm":0.13},{"atom":825,"nm":0.09},{"atom":840,"nm":0.12},{"atom":855,"nm":0.08},{"atom":870,"nm":0.11},{"atom":885,"nm":0.09},{"atom":900,"nm":0.12},{"atom":915,"nm":0.1},{"atom":930,"nm":0.13},{"atom":945,"nm":0.11},{"atom":960,"nm":0.15},{"atom":975,"nm":0.13},{"atom":990,"nm":0.15},{"atom":1005,"nm":0.12},{"atom":1020,"nm":0.15},{"atom":1035,"nm":0.1},{"atom":1050,"nm":0.13},{"atom":1065,"nm":0.1},{"atom":1080,"nm":0.12},{"atom":1095,"nm":0.07},{"atom":1110,"nm":0.09},{"atom":1125,"nm":0.06},{"atom":1140,"nm":0.09},{"atom":1155,"nm":0.08},{"atom":1170,"nm":0.12},{"atom":1185,"nm":0.1},{"atom":1200,"nm":0.13},{"atom":1215,"nm":0.1},{"atom":1230,"nm":0.12},{"atom":1245,"nm":0.09},{"atom":1260,"nm":0.11},{"atom":1275,"nm":0.08},{"atom":1290,"nm":0.11},{"atom":1305,"nm":0.09},{"atom":1320,"nm":0.12},
{"atom":1335,"nm":0.08},{"atom":1350,"nm":0.1},{"atom":1365,"nm":0.06},{"atom":1380,"nm":0.09},{"atom":1395,"nm":0.06},{"atom":1410,"nm":0.1},{"atom":1425,"nm":0.13},{"atom":1440,"nm":0.16},{"atom":1455,"nm":0.12},{"atom":1470,"nm":0.15},{"atom":1485,"nm":0.11},{"atom":1500,"nm":0.14},{"atom":1515,"nm":0.09},{"atom":1530,"nm":0.12},{"atom":1545,"nm":0.08},{"atom":1560,"nm":0.12},{"atom":1575,"nm":0.09},{"atom":1590,"nm":0.13},{"atom":1605,"nm":0.1},{"atom":1620,"nm":0.13},{"atom":1635,"nm":0.09},{"atom":1650,"nm":0.12},{"atom":1665,"nm":0.08},{"atom":1680,"nm":0.12},{"atom":1695,"nm":0.09},{"atom":1710,"nm":0.13},{"atom":1725,"nm":0.1},{"atom":1740,"nm":0.12},{"atom":1755,"nm":0.08},{"atom":1770,"nm":0.11},{"atom":1785,"nm":0.07},{"atom":1800,"nm":0.1},{"atom":1815,"nm":0.08},{"atom":1830,"nm":0.12},{"atom":1845,"nm":0.15},{"atom":1860,"nm":0.2},{"atom":1870,"nm":0.26},{"atom":1880,"nm":0.22},{"atom":1890,"nm":0.27},{"atom":1900,"nm":0.2},{"atom":1915,"nm":0.17},{"atom":1930,"nm":0.12},{"atom":1945,"nm":0.08},{"atom":1960,"nm":0.11},{"atom":1975,"nm":0.06},{"atom":1990,"nm":0.09},{"atom":2005,"nm":0.05},{"atom":2020,"nm":0.08},{"atom":2035,"nm":0.06},{"atom":2050,"nm":0.1},{"atom":2065,"nm":0.07},{"atom":2080,"nm":0.12},{"atom":2095,"nm":0.1},{"atom":2110,"nm":0.14},{"atom":2125,"nm":0.11},{"atom":2140,"nm":0.15},{"atom":2155,"nm":0.12},{"atom":2170,"nm":0.14},{"atom":2185,"nm":0.1},{"atom":2200,"nm":0.12},{"atom":2215,"nm":0.07},{"atom":2230,"nm":0.09},{"atom":2245,"nm":0.05},{"atom":2260,"nm":0.08},{"atom":2275,"nm":0.06},{"atom":2290,"nm":0.1},{"atom":2305,"nm":0.12},{"atom":2320,"nm":0.15},{"atom":2335,"nm":0.13},{"atom":2350,"nm":0.18},{"atom":2365,"nm":0.23},{"atom":2378,"nm":0.2},{"atom":2392,"nm":0.25},{"atom":2405,"nm":0.19},{"atom":2420,"nm":0.15},{"atom":2435,"nm":0.1},{"atom":2450,"nm":0.12},{"atom":2465,"nm":0.08},{"atom":2480,"nm":0.1},{"atom":2495,"nm":0.06},{"atom":2510,"nm":0.09},{"atom":2525,"nm":0.06},{"atom":2540,"nm":0.1},{"atom":2555,"nm":0.12},{"atom":2570,"nm":0.1},{"atom":2585,"nm":0.14},{"atom":2600,"nm":0.11},{"atom":2615,"nm":0.13},{"atom":2630,"nm":0.1},{"atom":2645,"nm":0.15},{"atom":2660,"nm":0.12},
{"atom":2675,"nm":0.18},{"atom":2690,"nm":0.22},{"atom":2705,"nm":0.17},{"atom":2720,"nm":0.21},{"atom":2735,"nm":0.15},{"atom":2750,"nm":0.13},{"atom":2765,"nm":0.11},{"atom":2780,"nm":0.13},{"atom":2795,"nm":0.1},{"atom":2810,"nm":0.08},{"atom":2825,"nm":0.1},{"atom":2840,"nm":0.06},{"atom":2855,"nm":0.09},{"atom":2870,"nm":0.06},{"atom":2885,"nm":0.08},{"atom":2900,"nm":0.05},{"atom":2915,"nm":0.08},{"atom":2930,"nm":0.06},{"atom":2945,"nm":0.09},{"atom":2960,"nm":0.07},{"atom":2975,"nm":0.11},{"atom":2990,"nm":0.09},{"atom":3005,"nm":0.12},{"atom":3020,"nm":0.09},{"atom":3035,"nm":0.11},{"atom":3050,"nm":0.08},{"atom":3065,"nm":0.11},{"atom":3080,"nm":0.09},{"atom":3095,"nm":0.12},{"atom":3110,"nm":0.1},{"atom":3125,"nm":0.13},{"atom":3140,"nm":0.1},{"atom":3155,"nm":0.15},{"atom":3170,"nm":0.12},{"atom":3185,"nm":0.16},{"atom":3200,"nm":0.14},{"atom":3215,"nm":0.19},{"atom":3230,"nm":0.22},{"atom":3245,"nm":0.26},{"atom":3258,"nm":0.28},{"atom":3270,"nm":0.25},{"atom":3285,"nm":0.27}
]
},
"layer": [
{
  "data": {"name": "r223p"},
  "mark": {"type": "line", "strokeWidth": 4, "clip": true},
  "encoding": {
    "x": {"field": "atom", "type": "quantitative", "scale": {"domain": [0, 8000], "nice": false, "zero": false},
      "axis": {"orient": "bottom", "values": [0, 2000, 4000, 6000, 8000], "format": "d", "ticks": false, "labelPadding": 27, "labelFlush": false, "title": "Atom", "titleFontSize": 72, "titleFontWeight": "normal", "titlePadding": 5}},
    "y": {"field": "nm", "type": "quantitative", "scale": {"domain": [0, 2], "nice": false},
      "axis": {"orient": "left", "values": [0, 0.5, 1, 1.5, 2], "format": "~g", "ticks": false, "labelPadding": 23, "labelFlush": false,
        "labelOffset": {"condition": {"test": "datum.value === 2", "value": 8}, "value": 0},
        "title": "(nm)", "titleFontSize": 64, "titleFontWeight": "bold", "titlePadding": 33}},
    "color": {"datum": "R223P", "type": "nominal",
      "scale": {"domain": ["R223P", "G302S", "Wild type"], "range": ["#000000", "#ff0000", "#0000ff"]},
      "legend": {"orient": "none", "legendX": 1886, "legendY": 127, "title": null, "fillColor": "white", "strokeColor": "black", "padding": 34,
        "symbolType": "M-0.55,0H1.4", "symbolSize": 16900, "symbolStrokeWidth": 6, "labelFont": "Liberation Sans", "labelFontWeight": "bold", "labelFontSize": 52, "labelColor": "black", "labelOffset": 84, "labelLimit": 0, "rowPadding": 28,
        "encode": {"legend": {"update": {"strokeWidth": {"value": 5}}}, "symbols": {"update": {"strokeWidth": {"signal": "datum.value === 'R223P' ? 4 : 8"}}}}}}
  }
},
{
  "data": {"name": "g302s"},
  "mark": {"type": "line", "strokeWidth": 8, "clip": true},
  "encoding": {
    "x": {"field": "atom", "type": "quantitative",
      "axis": {"orient": "top", "values": [0, 1000, 2000, 3000, 4000, 5000, 6000, 7000, 8000], "labels": false, "title": null,
        "tickSize": {"condition": {"test": "datum.value % 2000 === 0", "value": -48}, "value": -24}}},
    "y": {"field": "nm", "type": "quantitative",
      "axis": {"orient": "right", "values": [0, 0.25, 0.5, 0.75, 1, 1.25, 1.5, 1.75, 2], "labels": false, "title": null,
        "tickSize": {"condition": {"test": "datum.value % 0.5 === 0", "value": -52}, "value": -26}}},
    "color": {"datum": "G302S", "type": "nominal"}
  }
},
{
  "data": {"name": "wt"},
  "mark": {"type": "line", "strokeWidth": 8, "clip": true},
  "encoding": {
    "x": {"field": "atom", "type": "quantitative",
      "axis": {"orient": "bottom", "values": [0, 1000, 2000, 3000, 4000, 5000, 6000, 7000, 8000], "labels": false, "title": null,
        "tickSize": {"condition": {"test": "datum.value % 2000 === 0", "value": -46}, "value": -23}}},
    "y": {"field": "nm", "type": "quantitative",
      "axis": {"orient": "left", "values": [0, 0.25, 0.5, 0.75, 1, 1.25, 1.5, 1.75, 2], "labels": false, "title": null,
        "tickSize": {"condition": {"test": "datum.value % 0.5 === 0", "value": -52}, "value": -26}}},
    "color": {"datum": "Wild type", "type": "nominal"}
  }
}
],
"resolve": {"axis": {"x": "independent", "y": "independent"}}
}
